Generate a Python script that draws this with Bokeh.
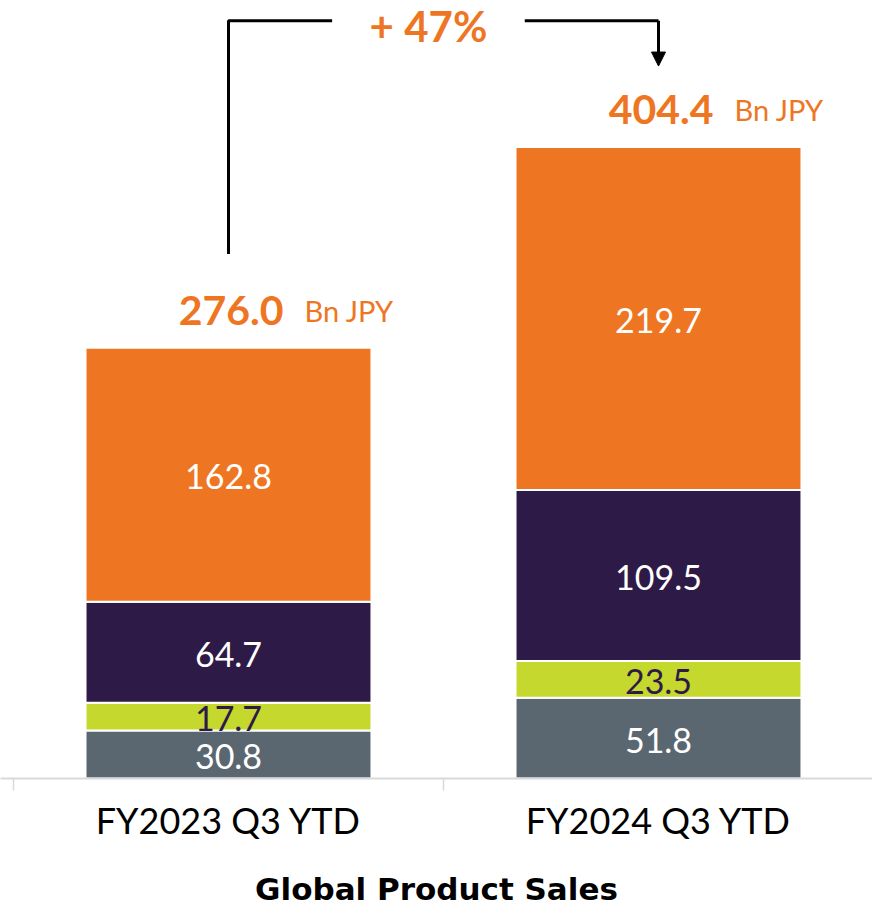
import numpy as np
from bokeh.plotting import figure
from bokeh.models import ColumnDataSource, Range1d, FixedTicker, Arrow, NormalHead
from bokeh.core.properties import value
from bokeh.embed import file_html
from bokeh.resources import INLINE

# ---- data ----
categories = ["FY2023 Q3 YTD", "FY2024 Q3 YTD"]
seg_gray = [30.8, 51.8]
seg_green = [17.7, 23.5]
seg_purple = [64.7, 109.5]
seg_orange = [162.8, 219.7]
totals = [276.0, 404.4]
unit = "Bn JPY"
axis_title = "Global Product Sales"

series = ["gray", "green", "purple", "orange"]
colors = ["#5B6770", "#C4D82E", "#2E1A47", "#EE7623"]
label_colors = ["white", "#2E1A47", "white", "white"]

xs = [0.5, 1.5]
src = ColumnDataSource(dict(x=xs, gray=seg_gray, green=seg_green,
                            purple=seg_purple, orange=seg_orange))

W, H = 872, 915
BOTTOM = 137
PX_X = 430.0
PX_Y = 1.561
p = figure(width=W, height=H,
           x_range=Range1d(-13 / PX_X, (W - 13) / PX_X),
           y_range=Range1d(0, (H - BOTTOM) / PX_Y),
           output_backend="svg", toolbar_location=None,
           y_axis_location=None,
           min_border_left=0, min_border_right=0, min_border_top=0,
           min_border_bottom=BOTTOM)
p.grid.visible = False
p.outline_line_color = None
p.background_fill_color = "white"

p.vbar_stack(series, x="x", width=0.665, source=src, color=colors,
             line_color="white", line_width=2)

# segment labels
stack = np.array([seg_gray, seg_green, seg_purple, seg_orange])
cum = np.cumsum(stack, axis=0)
mids = cum - stack / 2
for i in range(4):
    p.text(x=xs, y=list(mids[i]), text=[f"{v:.1f}" for v in stack[i]],
           text_align="center", text_baseline="middle",
           text_font=value("Lato"), text_font_size="34px",
           text_color=label_colors[i], y_offset=2)

# totals
tot_y = [t + 24 for t in totals]
p.text(x=xs, y=tot_y, text=[f"{t:.1f}" for t in totals],
       text_align="right", text_baseline="middle", x_offset=55,
       text_font=value("Lato"), text_font_style="bold",
       text_font_size="41px", text_color="#EE7623")
p.text(x=xs, y=tot_y, text=[unit, unit],
       text_align="left", text_baseline="middle", x_offset=76,
       text_font=value("Lato"), text_font_size="29px",
       text_color="#EE7623")

# growth bracket
growth = round((totals[1] / totals[0] - 1) * 100)
top = totals[1] + 81
start = totals[0] + 60
arrow_end = totals[1] + 52
label_x = 0.965
gap = 0.224
p.line(x=[xs[0], xs[0], label_x - gap], y=[start, top, top],
       line_color="black", line_width=3)
p.line(x=[label_x + gap, xs[1]], y=[top, top],
       line_color="black", line_width=3)
p.add_layout(Arrow(end=NormalHead(size=14, fill_color="black", line_color="black"),
                   x_start=xs[1], y_start=top, x_end=xs[1], y_end=arrow_end,
                   line_color="black", line_width=3))
p.text(x=[label_x], y=[top], text=[f"+ {growth}%"],
       text_align="center", text_baseline="middle", y_offset=5,
       text_font=value("Lato"), text_font_style="bold",
       text_font_size="42px", text_color="#EE7623")

# x axis
ax = p.xaxis[0]
ax.ticker = FixedTicker(ticks=xs, minor_ticks=[0, 1, 2])
ax.major_label_overrides = {xs[0]: categories[0], xs[1]: categories[1]}
ax.major_tick_out = 0
ax.major_tick_in = 0
ax.minor_tick_out = 12
ax.minor_tick_in = 0
ax.minor_tick_line_color = "#D9D9D9"
ax.minor_tick_line_width = 1.5
ax.axis_line_color = "#D9D9D9"
ax.axis_line_width = 2
ax.major_label_text_font = "Lato"
ax.major_label_text_font_size = "36px"
ax.major_label_text_color = "black"
ax.major_label_standoff = 7
ax.axis_label = axis_title
ax.axis_label_text_font = "DejaVu Sans"
ax.axis_label_text_font_style = "bold"
ax.axis_label_text_font_size = "31px"
ax.axis_label_text_color = "black"
ax.axis_label_standoff = 26

open("out.html", "w").write(file_html(p, INLINE))
